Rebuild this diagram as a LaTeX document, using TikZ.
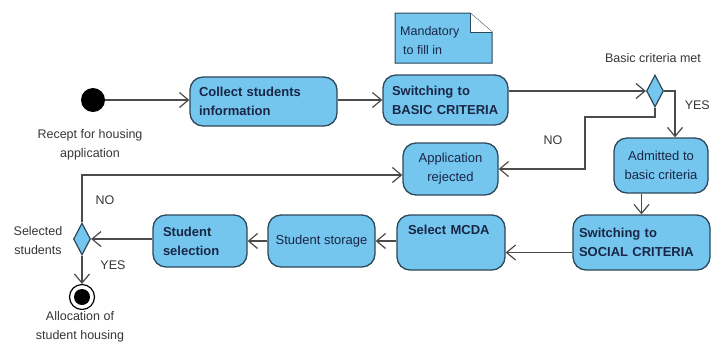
\documentclass[tikz,border=0pt]{standalone}
\usepackage{fontspec}
\setmainfont{Liberation Sans}
\usetikzlibrary{arrows.meta,shapes.geometric,calc}
\definecolor{boxfill}{RGB}{116,198,238}
\definecolor{boxline}{RGB}{45,72,90}
\definecolor{txt}{RGB}{25,38,70}
\definecolor{lbltxt}{RGB}{55,55,55}
\definecolor{edge}{RGB}{75,75,75}
\begin{document}
\begin{tikzpicture}[x=1pt,y=-1pt,
 act/.style={draw=boxline, fill=boxfill, line width=1.3pt, rounded corners=13pt, inner sep=0pt, text=txt, align=center, font=\fontsize{13}{19}\selectfont},
 bact/.style={act, font=\bfseries\fontsize{13}{19}\selectfont, align=left},
 dec/.style={diamond, draw=boxline, fill=boxfill, line width=1.2pt, inner sep=0pt, minimum width=17pt, minimum height=32pt},
 lbl/.style={text=lbltxt, align=center, inner sep=0pt, font=\fontsize{12.5}{19}\selectfont},
 arr/.style={draw=edge, line width=1.2pt, -{Straight Barb[length=9pt,width=15pt]}},
 ]
\useasboundingbox (0,0) rectangle (711,349);
\fill[white] (0,0) rectangle (711,349);

% start
\node[circle, fill=black, minimum size=24pt, inner sep=0pt] (start) at (93,100) {};
\node[lbl] (startl) at (90,145) {Recept for housing\\application};

% top row
\node[bact, minimum width=147pt, minimum height=49pt, text width=129pt] (collect) at (263.5,101.5) {Collect students\\information};
\node[bact, minimum width=125pt, minimum height=50pt, text width=107pt] (basic) at (445.5,100) {Switching to\\BASIC CRITERIA};

% note
\coordinate (noteNW) at (395,13);
\coordinate (noteSE) at (492,63);
\fill[boxfill] (noteNW) -- (470,13) -- (492,32) -- (noteSE) -- (395,63) -- cycle;
\draw[boxline, line width=1pt] (noteNW) -- (470,13) -- (492,32) -- (noteSE) -- (395,63) -- cycle;
\fill[white] (470,13) -- (492,32) -- (470,32) -- cycle;
\draw[boxline, line width=1pt] (470,13) -- (470,32) -- (492,32);
\node[text=txt, align=left, inner sep=0pt, anchor=north west, font=\fontsize{12.5}{19}\selectfont] (note) at (400,26) {Mandatory\\\hspace{3pt}to fill in};

% decision 1
\node[dec] (d1) at (655,91) {};
\node[lbl] (d1l) at (653,58) {Basic criteria met};

% middle row
\node[act, minimum width=94pt, minimum height=55pt] (adm) at (661,165.5) {Admitted to\\basic criteria};
\node[act, minimum width=95pt, minimum height=52pt] (rej) at (450.5,169) {Application\\rejected};

% bottom row
\node[bact, minimum width=137pt, minimum height=55pt, text width=125pt] (soc) at (641.5,242.5) {Switching to\\SOCIAL CRITERIA};
\node[bact, minimum width=108pt, minimum height=55pt, text width=86pt] (mcda) at (451,242.5) {Select MCDA\\\strut};
\node[act, minimum width=107pt, minimum height=52pt] (stor) at (321.5,241) {Student storage};
\node[bact, minimum width=94pt, minimum height=52pt, text width=74pt] (sel) at (200,241) {Student\\selection};

% decision 2 and final
\node[dec] (d2) at (82,239) {};
\node[lbl] (d2l) at (38,241) {Selected\\students};
\node[circle, draw=black, line width=1.2pt, minimum size=25pt, inner sep=0pt] (fin) at (82,297) {};
\fill[black] (fin.center) circle[radius=8pt];
\node[lbl] (finl) at (80,327) {Allocation of\\student housing};

% guard labels
\node[lbl, anchor=east] (yes1) at (710,105) {YES};
\node[lbl] (no1) at (553,140) {NO};
\node[lbl] (no2) at (105,200) {NO};
\node[lbl] (yes2) at (113,265) {YES};

% connectors
\coordinate (n1) at (585,117);
\draw[arr] (start.east) -- (start.east -| collect.west);
\draw[arr] (start.east -| collect.east) -- (basic.west);
\draw[arr] (basic.east |- d1) -- (d1.west);
\draw[arr] (d1.east) -| ([xshift=14pt]adm.north);
\draw[arr] (d1.south) |- (n1) |- (rej.east);
\draw[arr] (d2.north) |- ([yshift=-6pt]rej.west);
\draw[arr] (adm.south -| soc.north) -- (soc.north);
\draw[arr] ([yshift=-10pt]soc.west) -- ([yshift=-10pt]soc.west -| mcda.east);
\draw[arr] (mcda.west |- stor.east) -- (stor.east);
\draw[arr] (stor.west) -- (stor.west -| sel.east);
\draw[arr] (sel.west |- d2.east) -- (d2.east);
\draw[arr] (d2.south) -- (fin.north);
\end{tikzpicture}
\end{document}
